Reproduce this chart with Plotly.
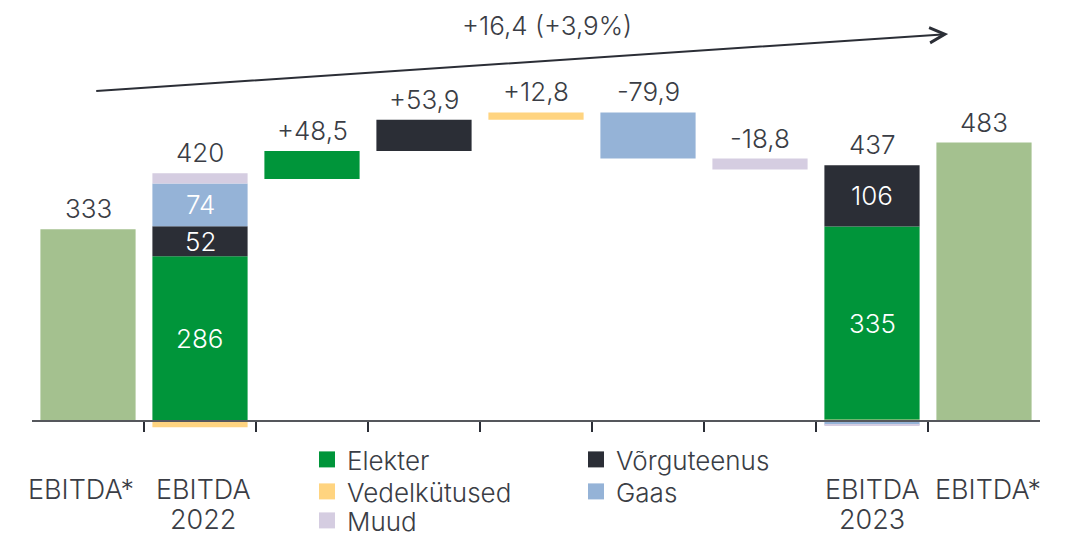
import plotly.graph_objects as go

# ---------------- data ----------------
series = ["Elekter", "Võrguteenus", "Vedelkütused", "Gaas", "Muud"]
tick_labels = ["EBITDA*", "EBITDA<br>2022", "", "", "", "", "", "EBITDA<br>2023", "EBITDA*"]
ebitda_star = [333, 483]                      # first and last columns
ebitda_2022 = [286, 52, -10, 74, 18]          # per series (order as `series`)
deltas = [48.5, 53.9, 12.8, -79.9, -18.8]     # change per series
ebitda_2023 = [335, 106, 2.8, -5.9, -0.8]     # per series
total_change = 16.4
total_change_pct = 3.9

# ---------------- style ----------------
colors = {
    "Elekter": "#00953A",
    "Võrguteenus": "#2B2E36",
    "Vedelkütused": "#FFD480",
    "Gaas": "#95B3D7",
    "Muud": "#D5CDE1",
}
total_color = "#A4C18F"
text_color = "#3A3D45"
font_family = "Inter, Roboto, sans-serif"
FS = 26          # value labels
FS_CAT = 27      # category labels
FS_LEG = 26      # legend
WEIGHT = 300
stack_order = ["Vedelkütused", "Elekter", "Võrguteenus", "Gaas", "Muud"]
BAR_W = 0.85
cat_label_xshift = {0: -7, 1: 3, 8: 4}


def fmt(v, signed=False):
    s = f"{v:+.1f}" if signed else f"{v:.0f}"
    return s.replace(".", ",")


def stack_bases(vals):
    d = dict(zip(series, vals))
    pos, neg, bases = 0.0, 0.0, {}
    for s in stack_order:
        v = d[s]
        if v >= 0:
            bases[s] = pos
            pos += v
        else:
            bases[s] = neg
            neg += v
    return bases, pos


def tfont(size, color=text_color):
    return dict(size=size, color=color, family=font_family, weight=WEIGHT)


n_cat = len(tick_labels)
x_2022, x_2023 = 1, n_cat - 2
b2022, top2022 = stack_bases(ebitda_2022)
b2023, top2023 = stack_bases(ebitda_2023)

running = sum(ebitda_2022)
delta_bases = []
for dv in deltas:
    delta_bases.append(running)
    running += dv

fig = go.Figure()
annotations = []

# EBITDA* bars
fig.add_trace(go.Bar(
    x=[0, n_cat - 1], y=ebitda_star, base=[0, 0], width=BAR_W,
    marker=dict(color=total_color, line=dict(width=0)), showlegend=False,
    hoverinfo="skip",
))
for xi, v in zip([0, n_cat - 1], ebitda_star):
    annotations.append(dict(x=xi, y=v, text=fmt(v), yanchor="bottom", showarrow=False,
                            yshift=3, font=tfont(FS)))

# Stacked and waterfall bars
for i, s in enumerate(series):
    xs = [x_2022, 2 + i, x_2023]
    ys = [ebitda_2022[i], deltas[i], ebitda_2023[i]]
    bs = [b2022[s], delta_bases[i], b2023[s]]
    fig.add_trace(go.Bar(
        x=xs, y=ys, base=bs, width=BAR_W, name=s,
        marker=dict(color=colors[s], line=dict(width=0)), showlegend=False,
        hoverinfo="skip",
    ))
    for xi, v, b in [(xs[0], ys[0], bs[0]), (xs[2], ys[2], bs[2])]:
        if abs(v) >= 30:
            annotations.append(dict(x=xi, y=b + v / 2, text=fmt(v), showarrow=False,
                                    font=tfont(FS, "white")))
    annotations.append(dict(x=2 + i, y=max(delta_bases[i], delta_bases[i] + deltas[i]),
                            text=fmt(deltas[i], signed=True), yanchor="bottom",
                            showarrow=False, yshift=3, font=tfont(FS)))

for xi, top, vals in [(x_2022, top2022, ebitda_2022), (x_2023, top2023, ebitda_2023)]:
    annotations.append(dict(x=xi, y=top, text=fmt(sum(vals)), yanchor="bottom",
                            showarrow=False, yshift=3, font=tfont(FS)))

# legend entries: one horizontal legend per row
legend_rows = {"Elekter": "legend", "Võrguteenus": "legend",
               "Vedelkütused": "legend2", "Gaas": "legend2", "Muud": "legend3"}
for s in series:
    fig.add_trace(go.Scatter(
        x=[None], y=[None], mode="markers", name=s,
        marker=dict(symbol="square", size=16, color=colors[s]),
        legend=legend_rows[s], showlegend=True,
    ))

# overall change arrow + label
annotations.append(dict(x=7.68, y=671, ax=0.06, ay=572, axref="x", ayref="y",
                        xref="x", yref="y", showarrow=True, arrowhead=5,
                        arrowsize=1.5, arrowwidth=2, arrowcolor="#2B2E36", text=""))
annotations.append(dict(
    x=4.1, y=685, showarrow=False,
    text=f"{fmt(total_change, signed=True)} ({fmt(total_change_pct, signed=True)}%)",
    font=tfont(FS)))

# layout geometry (figure sits 8px in from the page corner)
W, H = 1060, 539
ML, MR = 24, 28
PLOT_H = 425
Y_MIN, Y_MAX = -20, 716

# category labels (one annotation per text line)
LINE_CENTERS = [481, 512]
for xi, t in enumerate(tick_labels):
    if not t:
        continue
    for li, line in enumerate(t.split("<br>")):
        annotations.append(dict(x=xi, y=(PLOT_H - LINE_CENTERS[li]) / PLOT_H,
                                yref="paper", yanchor="middle", text=line,
                                xshift=cat_label_xshift.get(xi, 0),
                                showarrow=False, font=tfont(FS_CAT)))


def legend_at(top_px):
    return dict(font=tfont(FS_LEG),
                orientation="h", yanchor="top", xanchor="left",
                x=(299 - ML) / (W - ML - MR), y=(PLOT_H - top_px) / PLOT_H,
                entrywidth=224, entrywidthmode="pixels",
                bgcolor="rgba(0,0,0,0)", itemclick=False, itemdoubleclick=False)


fig.update_layout(
    width=W, height=H,
    margin=dict(l=ML, r=MR, t=0, b=H - PLOT_H, autoexpand=False),
    paper_bgcolor="white", plot_bgcolor="white",
    font=tfont(FS),
    barmode="overlay",
    annotations=annotations,
    legend=legend_at(428),
    legend2=legend_at(460),
    legend3=legend_at(489),
    xaxis=dict(
        range=[-0.5, n_cat - 0.5], anchor="free", position=(0 - Y_MIN) / (Y_MAX - Y_MIN),
        showline=True, linecolor="#55575C", linewidth=2,
        tickmode="array", tickvals=[k + 0.5 for k in range(n_cat - 1)],
        ticktext=["" for _ in range(n_cat - 1)],
        ticks="outside", ticklen=10, tickwidth=2, tickcolor="#2B2E36",
        showgrid=False, zeroline=False, fixedrange=True,
    ),
    yaxis=dict(range=[Y_MIN, Y_MAX], visible=False, showgrid=False, zeroline=False,
               fixedrange=True),
)

fig.write_html("out.html")
